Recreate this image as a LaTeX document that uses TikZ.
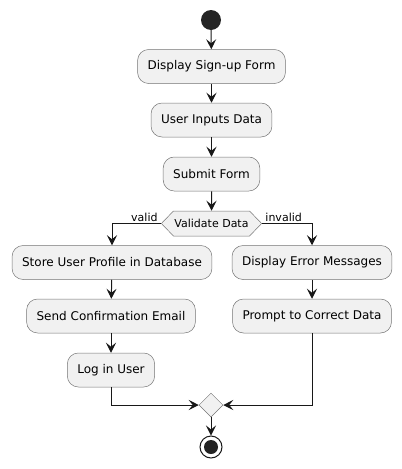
\documentclass[tikz,border=0pt]{standalone}
\usepackage{fontspec}
\setmainfont{DejaVu Sans}
\usetikzlibrary{arrows.meta,shapes.geometric,shapes.symbols}
\definecolor{boxfill}{HTML}{F1F1F1}
\definecolor{ink}{HTML}{181818}
\tikzset{
  act/.style={rectangle, rounded corners=11pt, draw=ink!60, fill=boxfill, line width=0.5pt,
    minimum height=34pt, inner xsep=10pt, font=\fontsize{12}{14}\selectfont},
  flow/.style={draw=ink, line width=1pt, -{Stealth[length=10pt,width=10pt,inset=4pt]}},
  lbl/.style={font=\fontsize{11}{13}\selectfont, inner sep=1pt}
}
\begin{document}
\begin{tikzpicture}[x=1pt, y=-1pt]
\useasboundingbox (0,0) rectangle (402,469);
\node (N0) at (211,20) [circle, fill=ink!95, minimum size=20pt, inner sep=0pt] {};
\node (N1) at (211.5,66.5) [act] {Display Sign-up Form};
\node (N2) at (211.5,120) [act] {User Inputs Data};
\node (N3) at (211.5,174) [act] {Submit Form};
\node (N4) at (211.5,223.5) [signal, signal to=west and east, signal pointer angle=92, draw=ink!60, fill=boxfill, line width=0.5pt,
  minimum height=25pt, inner xsep=1pt, inner ysep=0pt, font=\fontsize{11}{13}\selectfont] {Validate Data};
\node (N5) at (112,262.5) [act] {Store User Profile in Database};
\node (N6) at (111,316) [act] {Send Confirmation Email};
\node (N7) at (111,370) [act] {Log in User};
\node (N8) at (312,262.5) [act] {Display Error Messages};
\node (N9) at (312,316) [act] {Prompt to Correct Data};
\node (N10) at (211,405) [diamond, draw=ink!60, fill=boxfill, line width=0.5pt, minimum size=24pt, inner sep=0pt] {};
\node (N11) at (211,447) [circle, draw=ink, line width=1pt, fill=white, minimum size=22pt, inner sep=0pt,
  path picture={\fill[ink!95] (path picture bounding box.center) circle (7pt);}] {};
\draw[flow] (N0) -- (N1);
\draw[flow] (N1) -- (N2);
\draw[flow] (N2) -- (N3);
\draw[flow] (N3) -- (N4);
\draw[flow] (N4.west) -| node[lbl, pos=0.02, above left] {valid} (N5.north);
\draw[flow] (N4.east) -| node[lbl, pos=0.02, above right] {invalid} (N8.north);
\draw[flow] (N5) -- (N6);
\draw[flow] (N6) -- (N7);
\draw[flow] (N8) -- (N9);
\draw[flow] (N7.south) |- (N10.west);
\draw[flow] (N9.south) |- (N10.east);
\draw[flow] (N10) -- (N11);
\end{tikzpicture}
\end{document}
